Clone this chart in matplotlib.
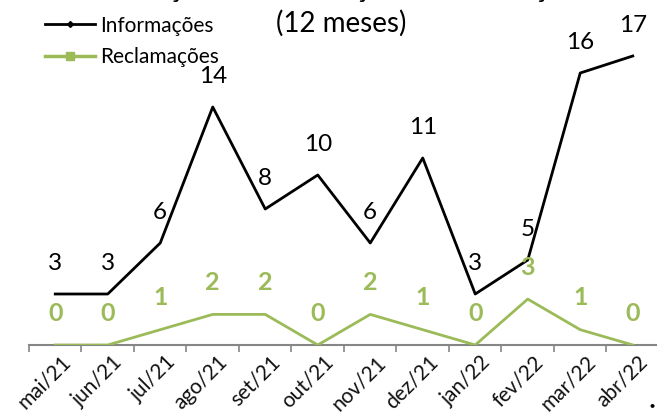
import matplotlib

matplotlib.use("Agg")
import matplotlib.pyplot as plt
import matplotlib.transforms as mtransforms
from matplotlib.lines import Line2D

months = ["mai/21", "jun/21", "jul/21", "ago/21", "set/21", "out/21",
          "nov/21", "dez/21", "jan/22", "fev/22", "mar/22", "abr/22"]
informacoes = [3, 3, 6, 14, 8, 10, 6, 11, 3, 5, 16, 17]
reclamacoes = [0, 0, 1, 2, 2, 0, 2, 1, 0, 3, 1, 0]

BLACK = "#000000"
GREEN = "#9BBB59"
AXIS_GRAY = "#868686"

plt.rcParams["font.family"] = ["Lato", "DejaVu Sans"]

fig = plt.figure(figsize=(6.57, 4.16), dpi=100)
ax = fig.add_axes((29 / 657, 71 / 416, 630 / 657, 306 / 416))
ax2 = ax.twinx()

x = list(range(len(months)))
ax.plot(x, informacoes, color=BLACK, lw=2, zorder=3)
ax2.plot(x, reclamacoes, color=GREEN, lw=2, zorder=3)

ax.set_xlim(-0.5, len(months) - 0.5)
ax.set_ylim(0, 18)
ax2.set_ylim(0, 20)

for xi, v in zip(x, informacoes):
    ax.annotate(str(v), (xi, v), xytext=(0, 22), textcoords="offset points",
                ha="center", va="center", fontsize=17.5, color=BLACK)
for xi, v in zip(x, reclamacoes):
    ax2.annotate(str(v), (xi, v), xytext=(0, 23), textcoords="offset points",
                 ha="center", va="center", fontsize=18, color=GREEN,
                 fontweight="bold")

# category axis: ticks at boundaries, labels at centres
ax.set_xticks([i - 0.5 for i in x])
ax.set_xticklabels([])
ax.set_xticks(x, minor=True)
ax.set_xticklabels(months, minor=True, rotation=45, ha="right",
                   rotation_mode="anchor", fontsize=15, color="#111111")
ax.tick_params(axis="x", which="major", length=5, width=1.2, color=AXIS_GRAY,
               direction="out")
ax.tick_params(axis="x", which="minor", length=0, pad=5)
shift = mtransforms.ScaledTranslation(5 / 100, 0, fig.dpi_scale_trans)
for lab in ax.get_xticklabels(minor=True):
    lab.set_transform(lab.get_transform() + shift)
ax.set_yticks([])
ax2.set_yticks([])
for a in (ax, ax2):
    for side in ("top", "left", "right"):
        a.spines[side].set_visible(False)
    a.patch.set_visible(False)
ax.spines["bottom"].set_color(AXIS_GRAY)
ax.spines["bottom"].set_linewidth(1.5)
ax2.spines["bottom"].set_visible(False)

handles = [
    Line2D([], [], color=BLACK, lw=2, marker="D", markersize=3),
    Line2D([], [], color=GREEN, lw=2.5, marker="s", markersize=6),
]
fig.legend(handles, ["Informações", "Reclamações"], loc="upper left",
           bbox_to_anchor=(32 / 657, 1 - 3 / 416), frameon=False,
           fontsize=15, handlelength=2.4, handletextpad=0.25,
           labelspacing=0.55, borderpad=0.1)

fig.text(345 / 657, 1 + 2 / 416, "Evolução das Informações e Reclamações",
         ha="center", va="baseline", fontsize=19, fontweight="bold")
fig.text(341 / 657, 1 - 23 / 416, "(12 meses)", ha="center", va="center",
         fontsize=20)
fig.text(652 / 657, 1 - 405 / 416, "●", ha="center", va="center", fontsize=6)

fig.savefig("out.png", dpi=100)
